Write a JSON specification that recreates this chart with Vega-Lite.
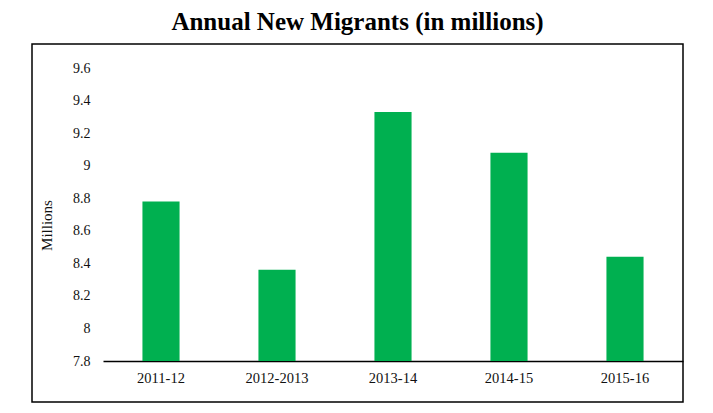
{
  "$schema": "https://vega.github.io/schema/vega-lite/v6.json",
  "autosize": "none",
  "width": 651,
  "height": 358,
  "padding": {"left": 32, "top": 44, "right": 30, "bottom": 11},
  "background": "white",
  "title": {
    "text": "Annual New Migrants (in millions)",
    "font": "Liberation Serif",
    "fontSize": 25,
    "fontWeight": "bold",
    "color": "black",
    "anchor": "middle",
    "offset": 9
  },
  "data": {
    "values": [
      {"year": "2011-12", "migrants": 8.78},
      {"year": "2012-2013", "migrants": 8.36},
      {"year": "2013-14", "migrants": 9.33},
      {"year": "2014-15", "migrants": 9.08},
      {"year": "2015-16", "migrants": 8.44}
    ]
  },
  "mark": {"type": "bar", "color": "#00B050"},
  "encoding": {
    "x": {
      "field": "year",
      "type": "nominal",
      "sort": null,
      "scale": {"range": [71, 651], "paddingInner": 0.68, "paddingOuter": 0.34},
      "axis": {
        "title": null,
        "offset": -41,
        "labelAngle": 0,
        "ticks": false,
        "labelPadding": 10,
        "domainColor": "black",
        "domainWidth": 1.5,
        "labelFont": "Liberation Serif",
        "labelFontSize": 14.5,
        "labelColor": "#111111"
      }
    },
    "y": {
      "field": "migrants",
      "type": "quantitative",
      "scale": {"domain": [7.8, 9.6], "range": [317, 24], "zero": false, "nice": false},
      "axis": {
        "title": "Millions",
        "offset": -71,
        "values": [7.8, 8, 8.2, 8.4, 8.6, 8.8, 9, 9.2, 9.4, 9.6],
        "format": "~g",
        "domain": false,
        "ticks": false,
        "grid": false,
        "labelPadding": 13,
        "labelFont": "Liberation Serif",
        "labelFontSize": 14,
        "labelColor": "#111111",
        "titleFont": "Liberation Serif",
        "titleFontSize": 15,
        "titleFontWeight": "normal",
        "titleColor": "#111111",
        "titlePadding": 18,
        "titleY": 181
      }
    },
    "y2": {"datum": 7.8}
  },
  "config": {
    "view": {"stroke": "black", "strokeWidth": 1.5}
  }
}
